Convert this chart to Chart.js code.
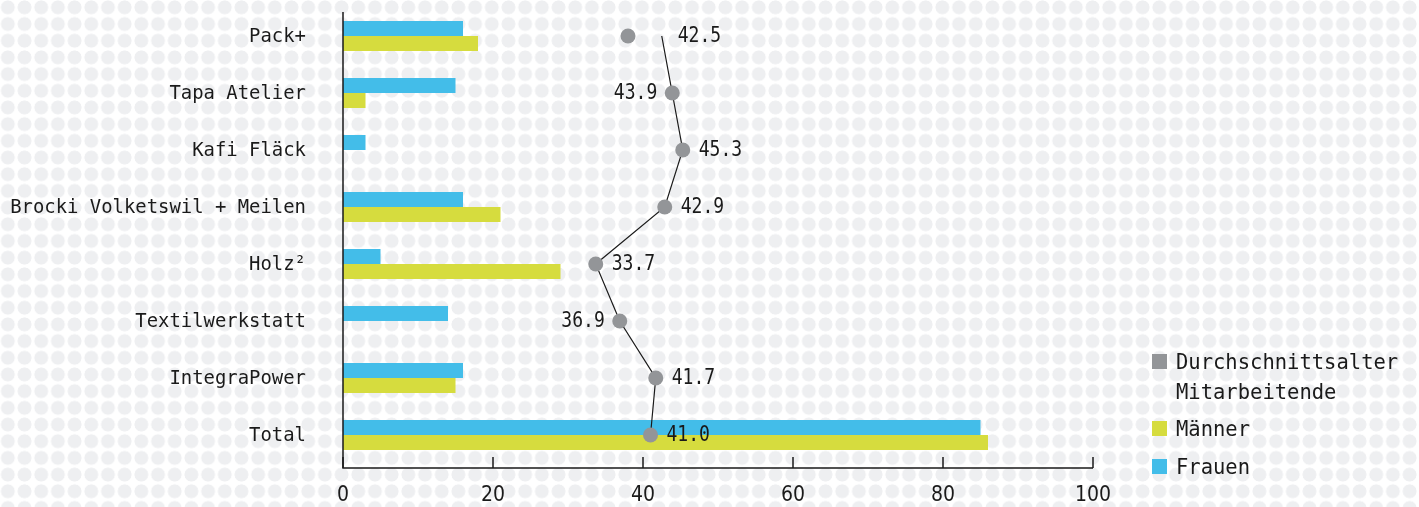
<!DOCTYPE html>
<html>
<head>
<meta charset="utf-8">
<script src="https://cdn.jsdelivr.net/npm/chart.js"></script>
<style>
  html, body { margin: 0; padding: 0; }
  body {
    width: 1419px; height: 507px; overflow: hidden; position: relative;
    background-color: #fff;
    background-image: radial-gradient(circle, #eeeff1 6.6px, rgba(255,255,255,0) 7.2px);
    background-size: 16.7px 16.7px;
    background-position: -0.5px -1px;
  }
  #wrap { position: absolute; left: 0; top: 0; width: 1419px; height: 507px; }
  .legend { position: absolute; left: 1152px; font-family: 'DejaVu Sans Mono', monospace; font-size: 20.5px; color: #1a1a1a; line-height: 30px; }
  .legend .sq { position: absolute; left: 0; top: 7px; width: 15px; height: 15px; }
  .legend .txt { position: absolute; left: 24px; top: 0; white-space: nowrap; }
</style>
</head>
<body>
<div id="wrap"><canvas id="myChart"></canvas></div>
<div class="legend" style="top:347px"><div class="sq" style="background:#939598"></div><div class="txt">Durchschnittsalter<br>Mitarbeitende</div></div>
<div class="legend" style="top:414px"><div class="sq" style="background:#d6dc3e"></div><div class="txt">Männer</div></div>
<div class="legend" style="top:452px"><div class="sq" style="background:#43bde9"></div><div class="txt">Frauen</div></div>
<script>
// data
let categories = ['Pack+', 'Tapa Atelier', 'Kafi Fläck', 'Brocki Volketswil + Meilen', 'Holz²', 'Textilwerkstatt', 'IntegraPower', 'Total'];
let frauen = [16, 15, 3, 16, 5, 14, 16, 85];
let maenner = [18, 3, 0, 21, 29, 0, 15, 86];
let alter = [42.5, 43.9, 45.3, 42.9, 33.7, 36.9, 41.7, 41.0];
let alterPunktPack = [38, null, null, null, null, null, null, null];
let xTicks = [0, 20, 40, 60, 80, 100];

let textColor = '#1a1a1a';
let grey = '#939598';

// label on left or right of the point
let labelSide = ['r', 'l', 'r', 'r', 'r', 'l', 'r', 'r'];

// axis lines sit a little outside the category band, ticks point inwards
let axisLines = {
    id: 'axisLines',
    afterDraw(chart){
        let {ctx, chartArea} = chart;
        let x = chart.scales.x;
        let axisY = chartArea.bottom + 4.5;
        ctx.save();
        ctx.strokeStyle = textColor;
        ctx.lineWidth = 1.5;
        ctx.beginPath();
        ctx.moveTo(chartArea.left, chartArea.top + 4.5);
        ctx.lineTo(chartArea.left, axisY);
        ctx.lineTo(chartArea.right, axisY);
        ctx.stroke();
        xTicks.forEach((v)=>{
            let px = x.getPixelForValue(v);
            ctx.beginPath();
            ctx.moveTo(px, axisY);
            ctx.lineTo(px, axisY - 11);
            ctx.stroke();
        })
        ctx.restore();
    }
};

// category names, drawn by hand so the y axis keeps no extra padding
let categoryLabels = {
    id: 'categoryLabels',
    afterDraw(chart){
        let ctx = chart.ctx;
        let y = chart.scales.y;
        ctx.save();
        ctx.font = "20px 'DejaVu Sans Mono', monospace";
        ctx.fillStyle = textColor;
        ctx.textAlign = 'right';
        ctx.textBaseline = 'middle';
        categories.forEach((c, i)=>{
            ctx.save();
            ctx.translate(y.left + y.width - 37, y.getPixelForValue(i) + 1);
            ctx.scale(0.945, 1);
            ctx.fillText(c, 0, 0);
            ctx.restore();
        })
        ctx.restore();
    }
};

let alterLabels = {
    id: 'alterLabels',
    afterDatasetsDraw(chart){
        let ctx = chart.ctx;
        let meta = chart.getDatasetMeta(2);
        ctx.save();
        ctx.font = "21px 'DejaVu Sans Mono', monospace";
        ctx.fillStyle = textColor;
        ctx.textBaseline = 'middle';
        meta.data.forEach((pt, i)=>{
            let txt = alter[i].toFixed(1);
            ctx.save();
            if(labelSide[i] === 'l'){
                ctx.translate(pt.x - 15, pt.y + 1);
                ctx.textAlign = 'right';
            }else{
                ctx.translate(pt.x + 16, pt.y + 1);
                ctx.textAlign = 'left';
            }
            ctx.scale(0.86, 1);
            ctx.fillText(txt, 0, 0);
            ctx.restore();
        })
        ctx.restore();
    }
};

let ctx = document.getElementById('myChart').getContext('2d');
let myChart = new Chart(ctx, {
    type: 'bar',
    data: {
        labels: categories,
        datasets: [
            {
                label: 'Frauen',
                data: frauen,
                backgroundColor: '#43bde9',
                categoryPercentage: 0.525,
                barPercentage: 1,
                order: 1
            },
            {
                label: 'Männer',
                data: maenner,
                backgroundColor: '#d6dc3e',
                categoryPercentage: 0.525,
                barPercentage: 1,
                order: 1
            },
            {
                type: 'line',
                label: 'Durchschnittsalter Mitarbeitende',
                data: alter,
                borderColor: textColor,
                borderWidth: 1.2,
                pointRadius: [0, 7.5, 7.5, 7.5, 7.5, 7.5, 7.5, 7.5],
                pointBackgroundColor: grey,
                pointBorderWidth: 0,
                order: 0
            },
            {
                type: 'line',
                label: 'Pack+ Punkt',
                data: alterPunktPack,
                showLine: false,
                pointRadius: 7.5,
                pointBackgroundColor: grey,
                pointBorderWidth: 0,
                order: 0
            }
        ]
    },
    options: {
        indexAxis: 'y',
        responsive: true,
        maintainAspectRatio: false,
        animation: false,
        layout: { padding: { left: 0, top: 7.5, right: 326, bottom: 0 } },
        plugins: {
            legend: { display: false },
            tooltip: { enabled: false }
        },
        scales: {
            x: {
                type: 'linear',
                min: 0,
                max: 100,
                afterBuildTicks: (scale)=>{ scale.ticks = xTicks.map((v)=>({ value: v })); },
                afterFit: (scale)=>{ scale.height = 43.5; },
                grid: { display: false, drawTicks: false },
                border: { display: false },
                ticks: {
                    color: textColor,
                    padding: 19,
                    font: { family: "'Liberation Sans Narrow', 'DejaVu Sans Condensed', sans-serif", size: 21 }
                }
            },
            y: {
                type: 'category',
                grid: { display: false, drawTicks: false },
                border: { display: false },
                ticks: { display: false },
                afterFit: (scale)=>{
                    scale.width = 343;
                    scale.paddingTop = 0;
                    scale.paddingBottom = 0;
                }
            }
        }
    },
    plugins: [axisLines, categoryLabels, alterLabels]
});
</script>
</body>
</html>
